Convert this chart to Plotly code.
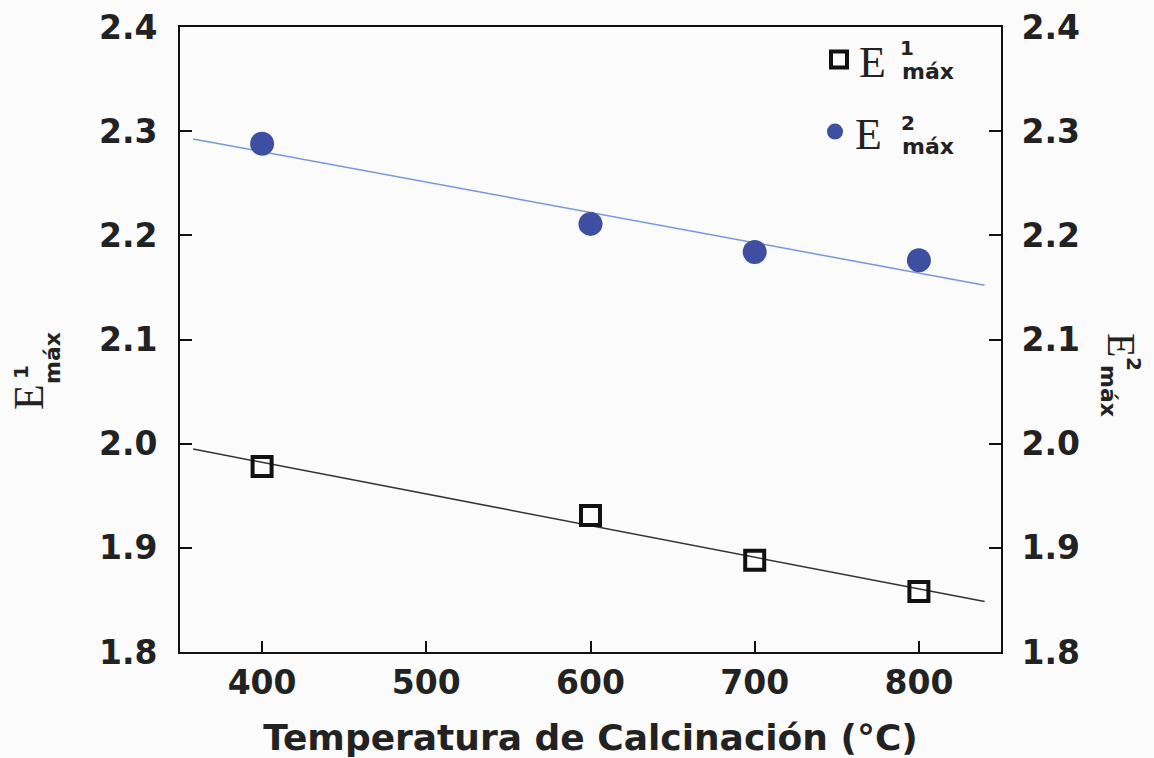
import numpy as np
import plotly.graph_objects as go

# ---------------- data ----------------
temperature = [400, 600, 700, 800]          # °C
e1_max = [1.978, 1.931, 1.888, 1.858]       # open squares (left axis)
e2_max = [2.288, 2.211, 2.184, 2.176]       # filled circles (right axis)
x_tick_vals = [400, 500, 600, 700, 800]
y_tick_vals = [1.8, 1.9, 2.0, 2.1, 2.2, 2.3, 2.4]
fit_span = [358, 840]                       # extent of the linear fits

# ---------------- layout constants ----------------
W, H = 1154, 758
L, R, T, B = 180, 153, 27, 106
PW, PH = W - L - R, H - T - B
INK = "#222222"
SANS = "DejaVu Sans"
SERIF = "Liberation Serif"
BLUE = "#3e4ea0"
LIGHTBLUE = "#7a95d8"


def px(x):
    return (x - L) / PW


def py(y):
    return (H - B - y) / PH


# linear regressions computed from the data
fx = np.array(fit_span, dtype=float)
c1 = np.polyfit(temperature, e1_max, 1)
c2 = np.polyfit(temperature, e2_max, 1)

fig = go.Figure()
fig.add_trace(go.Scatter(x=fx, y=np.polyval(c1, fx), mode="lines",
                         line=dict(color="#333333", width=1.5),
                         showlegend=False, hoverinfo="skip"))
fig.add_trace(go.Scatter(x=fx, y=np.polyval(c2, fx), mode="lines",
                         line=dict(color=LIGHTBLUE, width=1.5),
                         yaxis="y2", showlegend=False, hoverinfo="skip"))
fig.add_trace(go.Scatter(x=temperature, y=e1_max, mode="markers", name="E",
                         marker=dict(symbol="square-open", size=19,
                                     color="#111111",
                                     line=dict(width=4, color="#111111")),
                         legend="legend"))
fig.add_trace(go.Scatter(x=temperature, y=e2_max, mode="markers", name="E",
                         marker=dict(symbol="circle", size=24, color=BLUE,
                                     line=dict(width=0)),
                         yaxis="y2", legend="legend2"))


def ann(text, x, y, size, family=SANS, angle=0, bold=True):
    return dict(text=text, x=px(x), y=py(y), xref="paper", yref="paper",
                xanchor="center", yanchor="middle", showarrow=False,
                textangle=angle,
                font=dict(family=family, size=size, color=INK,
                          weight="bold" if bold else "normal"))


annotations = [
    # legend sub/superscripts
    ann("1", 907, 48, 20),
    ann("máx", 928, 71, 22),
    ann("2", 908, 123, 20),
    ann("máx", 928, 147, 22),
    # left axis title  E^1_máx
    ann("E", 29, 397, 42, SERIF, -90, False),
    ann("1", 21, 372, 20, SANS, -90),
    ann("máx", 52, 358, 22, SANS, -90),
    # right axis title  E^2_máx
    ann("E", 1121, 345, 40, SERIF, 90, False),
    ann("2", 1134, 364, 20, SANS, 90),
    ann("máx", 1109, 391, 22, SANS, 90),
]

tickfont = dict(family=SANS, size=33, color=INK, weight="bold")
axis_common = dict(showgrid=False, zeroline=False, showline=True,
                   linecolor="#111111", linewidth=2, ticks="inside",
                   tickcolor="#111111", tickwidth=2, tickfont=tickfont,
                   automargin=False)

legend_common = dict(xanchor="left", yanchor="middle",
                     bgcolor="rgba(0,0,0,0)", borderwidth=0,
                     font=dict(family=SERIF, size=44, color=INK),
                     itemwidth=30)

fig.update_layout(
    width=W, height=H,
    margin=dict(l=L, r=R, t=T, b=B, pad=0),
    paper_bgcolor="#fbfbfb", plot_bgcolor="#fbfbfb",
    xaxis=dict(range=[350, 850], tickvals=x_tick_vals, ticklen=11,
               mirror=True, ticklabelstandoff=0,
               title=dict(text="Temperatura de Calcinación (°C)",
                          font=dict(family=SANS, size=36, color=INK,
                                    weight="bold"),
                          standoff=36),
               **axis_common),
    yaxis=dict(range=[1.8, 2.4], tickvals=y_tick_vals, tickformat=".1f",
               ticklen=12, ticklabelstandoff=14, **axis_common),
    yaxis2=dict(range=[1.8, 2.4], tickvals=y_tick_vals, tickformat=".1f",
                overlaying="y", side="right", ticklen=12,
                ticklabelstandoff=12, **axis_common),
    legend=dict(x=px(819), y=py(60), **legend_common),
    legend2=dict(x=px(815), y=py(132), **legend_common),
    annotations=annotations,
    showlegend=True,
)

fig.write_html("out.html")
